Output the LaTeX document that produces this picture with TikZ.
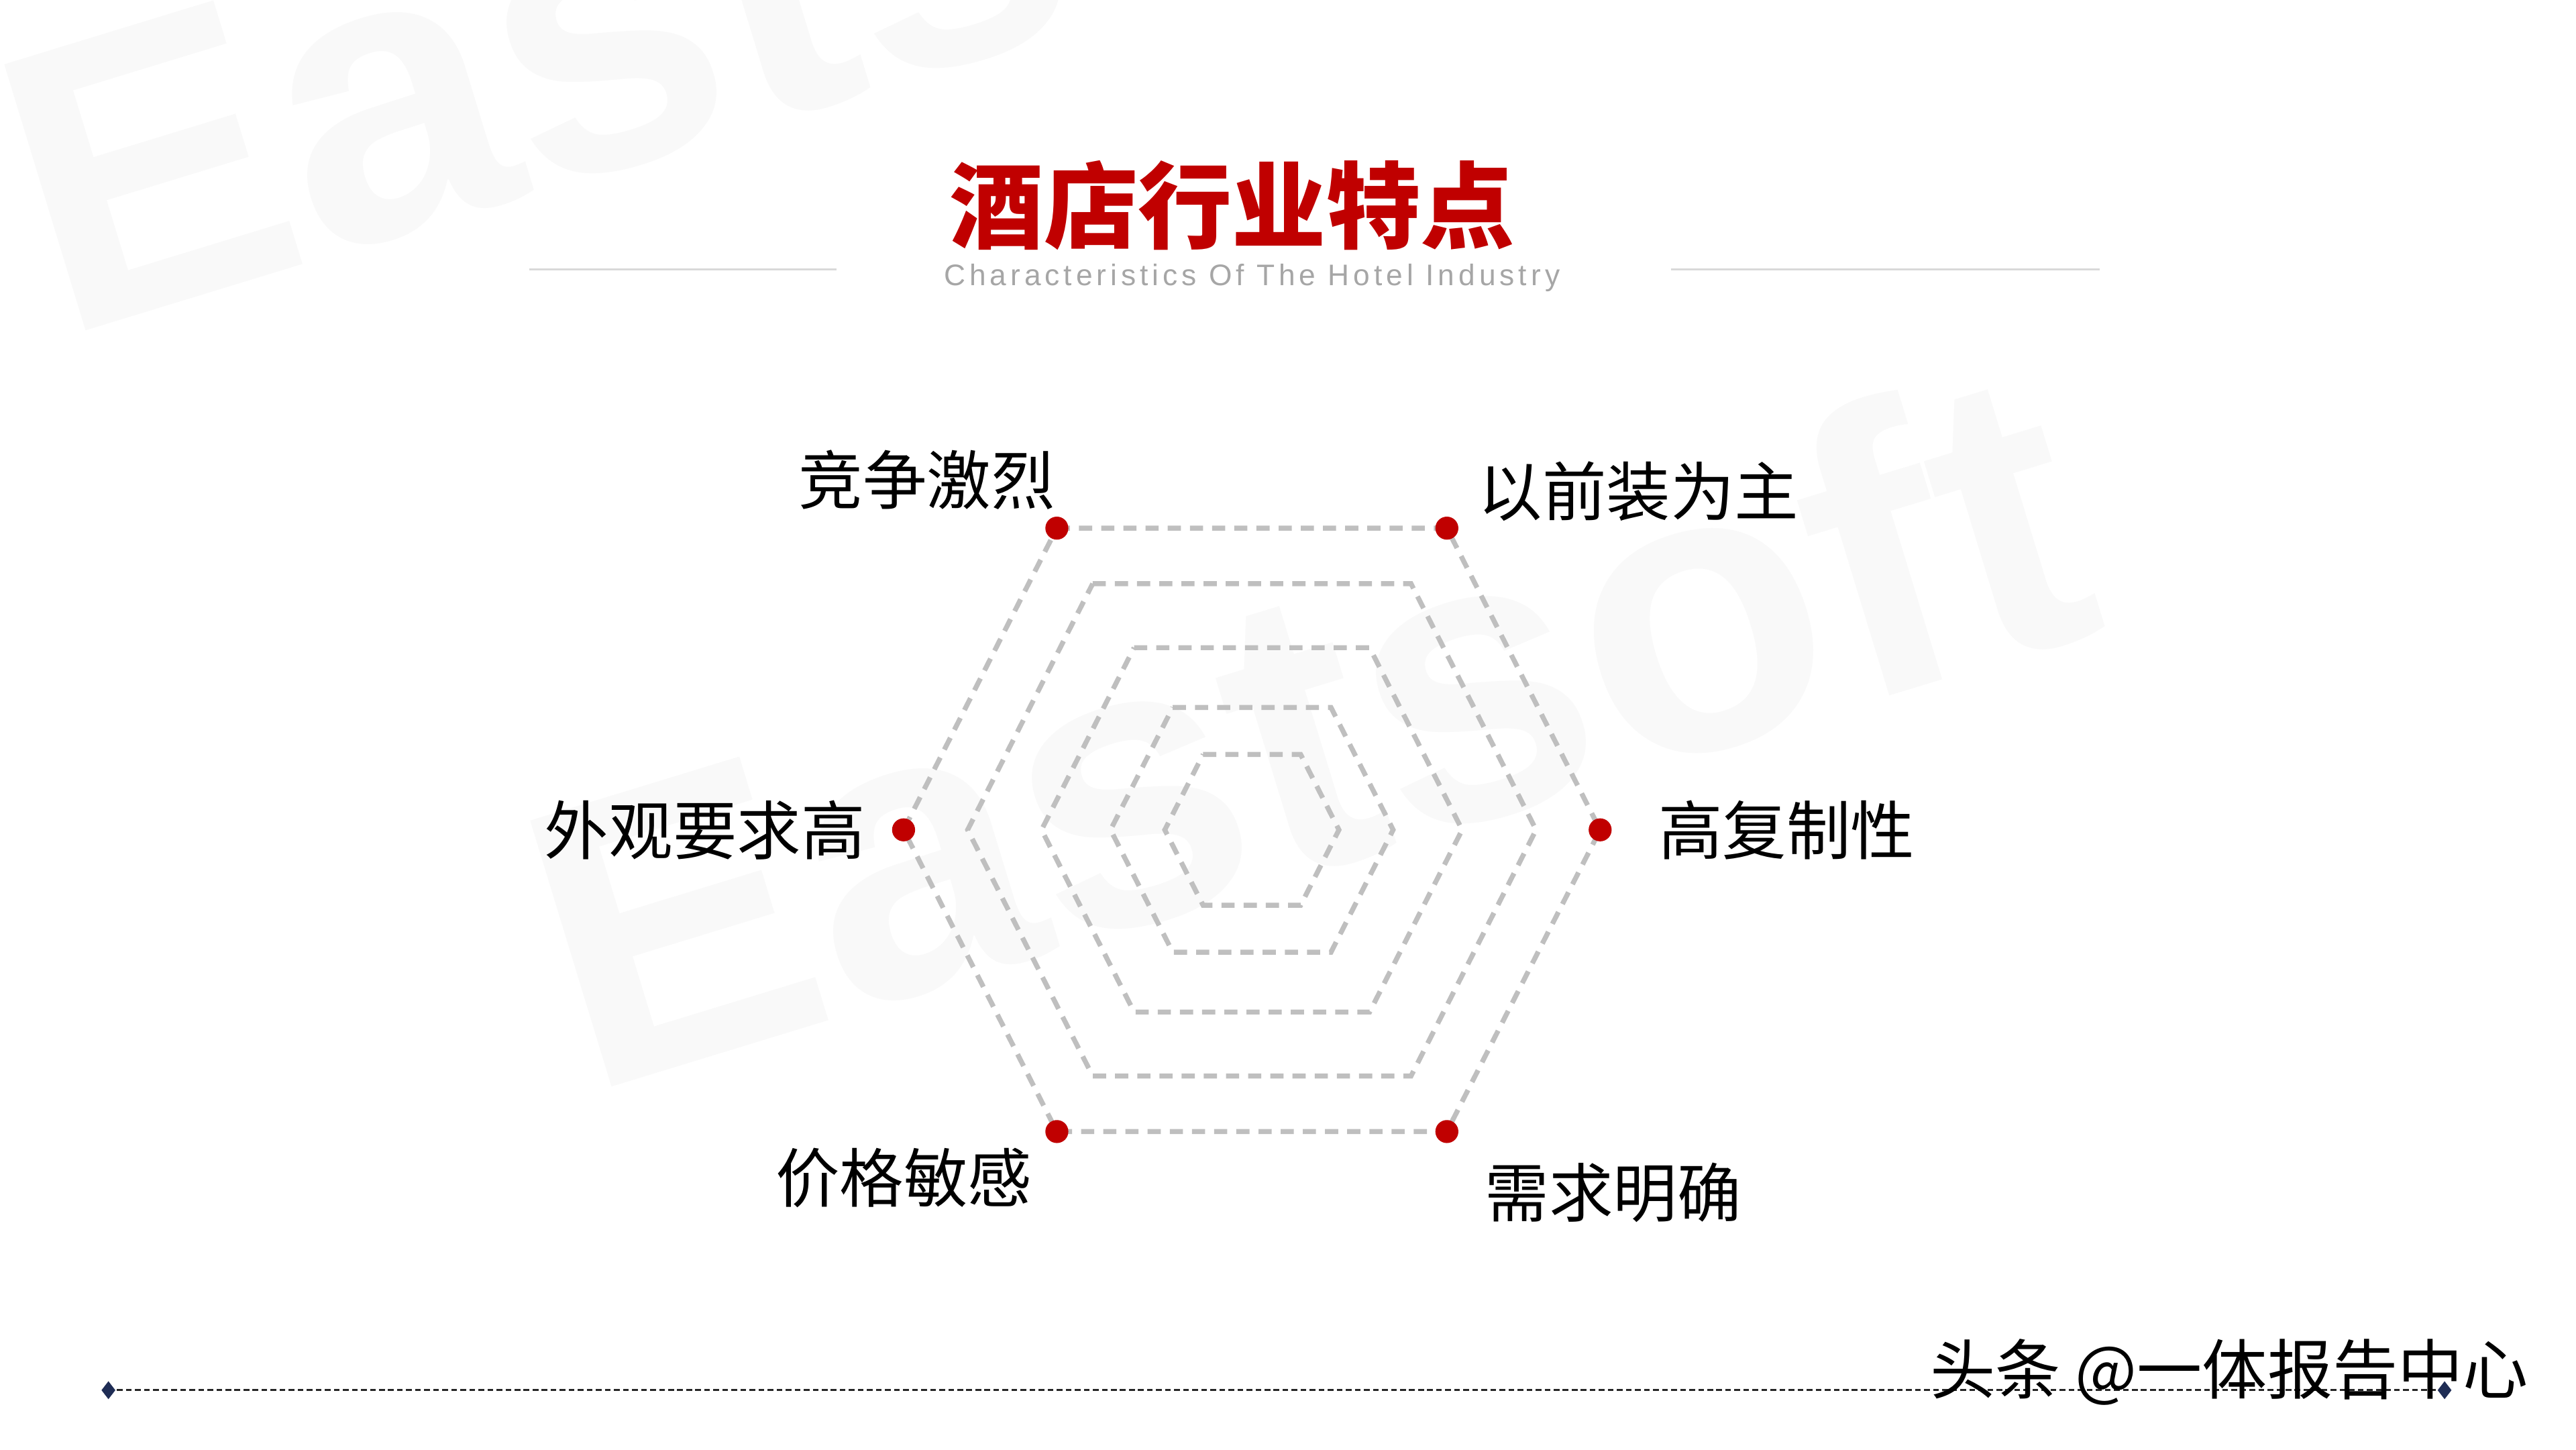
\documentclass[tikz,border=0pt]{standalone}
\usepackage{fontspec}
\usetikzlibrary{positioning, shapes.geometric}
\setmainfont{Noto Sans CJK SC}
\newfontfamily\cjk{Noto Sans CJK SC}
\newfontfamily\subfont[LetterSpace=13.5]{Liberation Sans}
\newfontfamily\wmfont{Liberation Sans}
\definecolor{accent}{HTML}{C00000}
\definecolor{hexgray}{HTML}{BFBFBF}
\definecolor{subgray}{HTML}{A6A6A6}
\definecolor{navy}{HTML}{1F2D55}

\begin{document}
\begin{tikzpicture}[x=0.1mm, y=-0.1mm,
    wm/.style={font=\wmfont\bfseries\fontsize{70}{70}\selectfont, text=black!2.5, rotate=17, inner sep=0},
    headline/.style={font=\cjk\bfseries\fontsize{16.3}{18}\selectfont, text=accent, inner sep=0},
    subtitle/.style={font=\subfont\fontsize{5.15}{6}\selectfont, text=subgray, inner sep=0},
    rule/.style={draw=black!15, line width=0.4pt},
    hexline/.style={draw=hexgray, line width=0.3mm, dash pattern=on 0.8mm off 0.55mm},
    dot/.style={circle, fill=accent, minimum size=1.4mm, inner sep=0},
    feat/.style={font=\cjk\fontsize{11.1}{13}\selectfont, inner sep=0},
    diam/.style={diamond, fill=navy, minimum width=0.9mm, minimum height=1.15mm, inner sep=0},
    footline/.style={draw=black!85, line width=0.35pt, dash pattern=on 0.35mm off 0.2mm},
    credit/.style={font=\cjk\fontsize{11.3}{13}\selectfont, inner sep=0}]

  \useasboundingbox[fill=white] (0,0) rectangle (1568,882);

  % faint watermarks
  \node[wm] (wm1) at (475,-20) {Eastsoft};
  \node[wm] (wm2) at (795,440) {Eastsoft};

  \node[headline] (head) at (750,125) {酒店行业特点};
  \node[subtitle, below=0.7mm of head, xshift=1.2mm] (sub) {Characteristics Of The Hotel Industry};
  \draw[rule] (322,164) -- (509,164);
  \draw[rule] (1017,164) -- (1278,164);

  \coordinate (c) at (762,505);
  \foreach \r in {212,173,128,86,53}
    \draw[hexline, shift={(c)}] ({-0.56*\r},{-0.866*\r}) -- ({0.56*\r},{-0.866*\r}) -- (\r,0)
      -- ({0.56*\r},{0.866*\r}) -- ({-0.56*\r},{0.866*\r}) -- (-\r,0) -- cycle;

  \node[dot] (tl) at ([shift={(-118.7,-183.6)}]c) {};
  \node[dot] (tr) at ([shift={(118.7,-183.6)}]c) {};
  \node[dot] (r)  at ([shift={(212,0)}]c) {};
  \node[dot] (br) at ([shift={(118.7,183.6)}]c) {};
  \node[dot] (bl) at ([shift={(-118.7,183.6)}]c) {};
  \node[dot] (l)  at ([shift={(-212,0)}]c) {};

  \node[feat, above left=0.5mm and -0.5mm of tl] (compete) {竞争激烈};
  \node[feat, above right=-0.2mm and 1.3mm of tr] (prefit) {以前装为主};
  \node[feat, right=2.7mm of r] (copy) {高复制性};
  \node[feat, below right=1.3mm and 1.7mm of br] (demand) {需求明确};
  \node[feat, below left=0.4mm and 0.9mm of bl] (price) {价格敏感};
  \node[feat, left=1.5mm of l] (look) {外观要求高};

  \node[diam] (dl) at (66,846) {};
  \node[diam] (dr) at (1488,846) {};
  \draw[footline] (dl) -- (dr);
  \node[credit] (credit) at (1357,835) {头条 @一体报告中心};
\end{tikzpicture}
\end{document}
